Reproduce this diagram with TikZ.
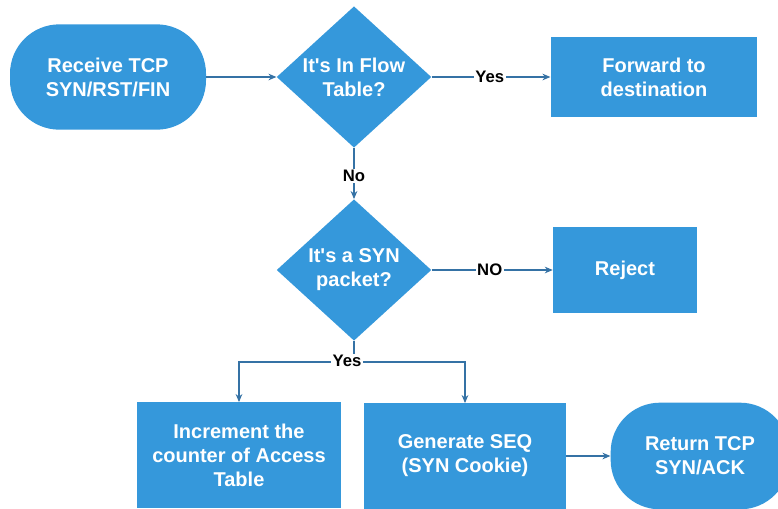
\documentclass[tikz,border=0pt]{standalone}
\usepackage{fontspec}
\setmainfont{Liberation Sans}
\usetikzlibrary{shapes.geometric,arrows.meta,calc}
\definecolor{boxblue}{HTML}{3598DB}
\definecolor{linkblue}{HTML}{3572A5}
\newcommand{\apos}{\textquotesingle}
\tikzset{
  x=0.75pt, y=-0.75pt,
  every node/.style={font=\bfseries},
  boxtext/.style={text=white, font=\fontsize{15}{18}\selectfont\bfseries, align=center},
  procbox/.style={boxtext, rectangle, fill=boxblue, inner sep=0pt},
  terminal/.style={boxtext, rectangle, rounded corners=37pt, fill=boxblue, inner sep=0pt},
  decision/.style={boxtext, diamond, fill=boxblue, inner sep=0pt,
    minimum width=116pt, minimum height=106pt},
  link/.style={draw=linkblue, line width=0.8pt, -{Stealth[length=6pt,width=5pt]}},
  edgelabel/.style={fill=white, text=black, font=\fontsize{12.5}{14}\selectfont\bfseries, inner sep=1pt}
}
\begin{document}
\begin{tikzpicture}
\useasboundingbox (0,0) rectangle (778,508);

% shapes
\node[terminal, minimum width=147pt, minimum height=79pt] (start) at (108,77) {Receive TCP\\SYN/RST/FIN};
\node[decision] (flow) at (354,77) {It\apos s In Flow\\Table?};
\node[procbox, minimum width=155pt, minimum height=60pt] (fwd) at (654,77) {Forward to\\destination};
\node[decision] (syn) at (354,270) {It\apos s a SYN\\packet?};
\node[procbox, minimum width=108pt, minimum height=65pt] (rej) at (625,270) {Reject};
\node[procbox, minimum width=153pt, minimum height=79pt] (inc) at (239,455) {Increment the\\counter of Access\\Table};
\node[procbox, minimum width=151pt, minimum height=79pt] (gen) at (465,456) {Generate SEQ\\(SYN Cookie)};
\node[terminal, minimum width=134pt, minimum height=80pt] (ret) at (700,456) {Return TCP\\SYN/ACK};

% connectors
\draw[link] (start.east) -- (flow.west);
\draw[link] (flow.east) -- node[edgelabel, pos=0.49] {Yes} (fwd.west);
\draw[link] (flow.south) -- node[edgelabel, pos=0.55] {No} (syn.north);
\draw[link] (syn.east) -- node[edgelabel, pos=0.48] {NO} (rej.west);
\coordinate (split) at (354,362);
\draw[draw=linkblue, line width=0.8pt] (syn.south) -- (split);
\draw[link] (split) -| (inc.north);
\draw[link] (split) -| (gen.north);
\node[edgelabel] (yeslbl) at (347,361) {Yes};
\draw[link] (gen.east) -- (ret.west);
\end{tikzpicture}
\end{document}
